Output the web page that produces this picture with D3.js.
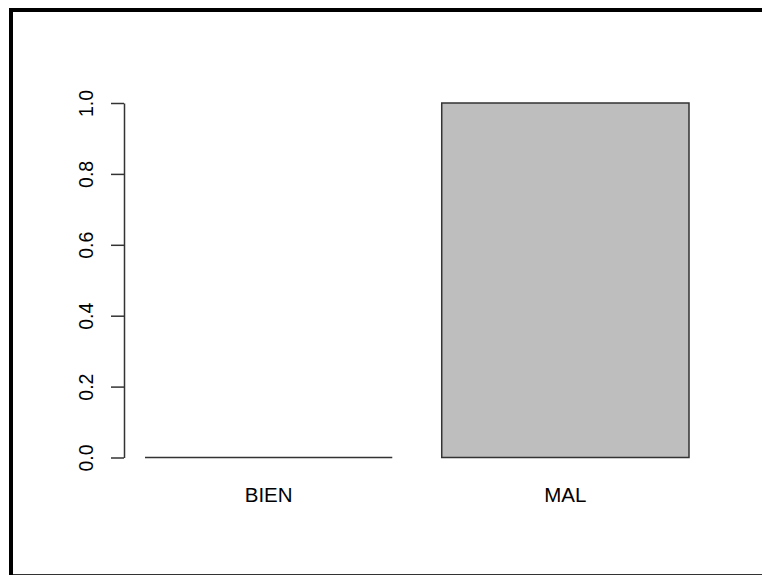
<!DOCTYPE html>
<html>
<head>
<meta charset="utf-8">
<script src="https://cdn.jsdelivr.net/npm/d3@7"></script>
<style>
  html, body { margin: 0; padding: 0; background: #fff; }
  svg { display: block; }
  text { font-family: "Liberation Sans", Arial, sans-serif; fill: #000; }
</style>
</head>
<body>
<script>
// Bar plot data
const categories = ["BIEN", "MAL"];
const values = [0, 1];
const yTicks = [0, 0.2, 0.4, 0.6, 0.8, 1.0];
const yTickLabels = ["0.0", "0.2", "0.4", "0.6", "0.8", "1.0"];

const W = 762, H = 575;
const svg = d3.select("body").append("svg").attr("width", W).attr("height", H);

// Outer frame: heavy top and left edges, thin bottom edge
svg.append("rect").attr("x", 9).attr("y", 8).attr("width", W - 9).attr("height", 4).attr("fill", "#000");
svg.append("rect").attr("x", 9).attr("y", 8).attr("width", 4).attr("height", H - 8).attr("fill", "#000");
svg.append("line").attr("x1", 13).attr("x2", W).attr("y1", 574.5).attr("y2", 574.5)
  .attr("stroke", "#333").attr("stroke-width", 1);

// Bars sit at [0.2,1.2] and [1.4,2.4] in user units (width 1, space 0.2)
const barWidth = 1, space = 0.2;
const barStart = categories.map((c, i) => space + i * (barWidth + space));
const x = d3.scaleLinear().domain([0.2, 2.4]).range([145, 689]);
const y = d3.scaleLinear().domain([0, 1]).range([457.5, 103]);

// Bars as closed paths so a zero-height bar still shows its outline
svg.selectAll("path.bar")
  .data(categories.map((c, i) => ({ c, v: values[i], x0: barStart[i] })))
  .join("path")
  .attr("class", "bar")
  .attr("d", d => {
    const p = d3.path();
    const x0 = x(d.x0), x1 = x(d.x0 + barWidth), y0 = y(0), y1 = y(d.v);
    p.moveTo(x0, y0); p.lineTo(x0, y1); p.lineTo(x1, y1); p.lineTo(x1, y0); p.closePath();
    return p.toString();
  })
  .attr("fill", "#bebebe")
  .attr("stroke", "#333")
  .attr("stroke-width", 1.5);

// Category labels under the bars
svg.selectAll("text.cat")
  .data(categories.map((c, i) => ({ c, x0: barStart[i] })))
  .join("text")
  .attr("class", "cat")
  .attr("x", d => x(d.x0 + barWidth / 2))
  .attr("y", 502)
  .attr("text-anchor", "middle")
  .attr("font-size", 20.5)
  .text(d => d.c);

// Y axis with rotated tick labels
const axisX = 124;
const yAxis = d3.axisLeft(y)
  .tickValues(yTicks)
  .tickFormat((d, i) => yTickLabels[i])
  .tickSize(13)
  .tickSizeOuter(0);

const gAxis = svg.append("g").attr("transform", `translate(${axisX},0)`).call(yAxis);
gAxis.select(".domain").attr("stroke", "#333").attr("stroke-width", 1.5);
gAxis.selectAll(".tick line").attr("stroke", "#333").attr("stroke-width", 1.5);
gAxis.selectAll(".tick text")
  .attr("font-family", "'Liberation Sans', Arial, sans-serif")
  .attr("font-size", 19.5)
  .attr("fill", "#000")
  .attr("text-anchor", "middle")
  .attr("dy", null)
  .attr("x", null)
  .attr("transform", "translate(-31,0) rotate(-90)");
</script>
</body>
</html>
